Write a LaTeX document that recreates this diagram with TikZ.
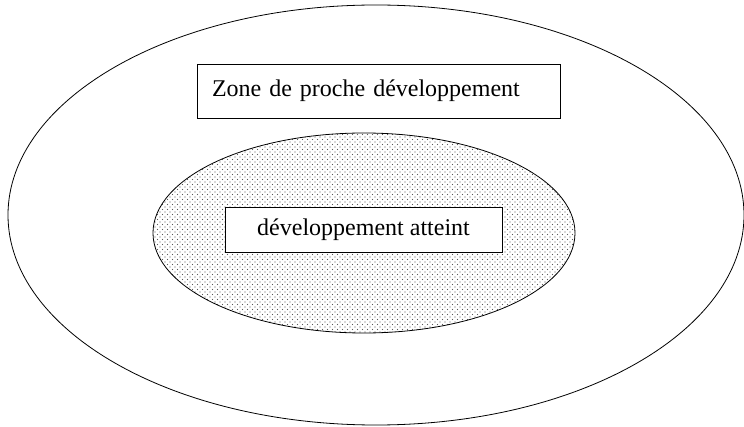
\documentclass[tikz,border=0pt]{standalone}
\usepackage{fontspec}
\setmainfont{Liberation Serif}
\usetikzlibrary{patterns}
\pgfdeclarepatternformonly{sparsedots}{\pgfqpoint{-1pt}{-1pt}}{\pgfqpoint{6pt}{6pt}}{\pgfqpoint{5pt}{5pt}}{%
  \pgfpathcircle{\pgfqpoint{0pt}{0pt}}{0.65pt}%
  \pgfpathcircle{\pgfqpoint{2.5pt}{2.5pt}}{0.65pt}%
  \pgfusepath{fill}%
}
\begin{document}
\begin{tikzpicture}[x=1pt,y=-1pt,
  line width=0.8pt,
  labelbox/.style={draw, fill=white, inner sep=0pt, font=\fontsize{24}{28}\selectfont},
]
\useasboundingbox (0,0) rectangle (744,427);
\draw (376,215) ellipse [x radius=368, y radius=210];
\draw[pattern=sparsedots, pattern color=black!65] (364,233) ellipse [x radius=211, y radius=100];
\node[labelbox, minimum width=363, minimum height=54, text width=333, align=left] (zpd) at (378.5,91) {Zone de proche développement};
\node[labelbox, minimum width=277, minimum height=45, align=center] (da) at (363.5,229.5) {développement atteint};
\end{tikzpicture}
\end{document}
